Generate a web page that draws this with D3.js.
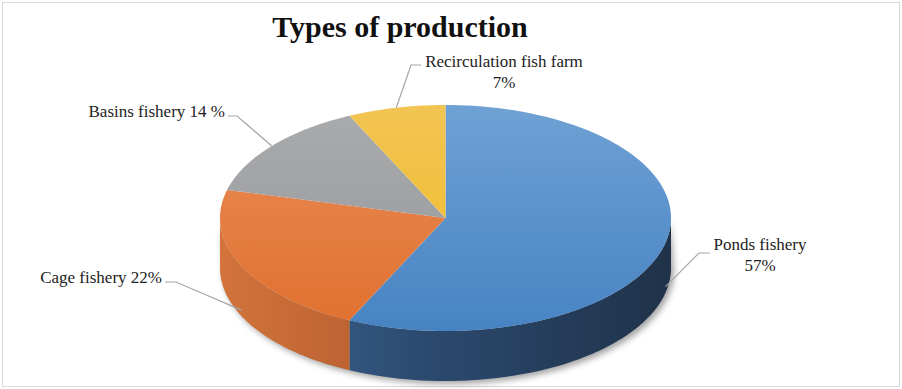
<!DOCTYPE html>
<html><head><meta charset="utf-8">
<script src="https://cdnjs.cloudflare.com/ajax/libs/d3/7.8.5/d3.min.js"></script>
<style>html,body{margin:0;padding:0;background:#fff;}svg{display:block;}</style>
</head><body>
<svg id="c" width="902" height="389"></svg>
<script>
// ---- data ----
const categories = ["Ponds fishery", "Cage fishery", "Basins fishery", "Recirculation fish farm"];
const values = [57, 22, 14, 7];
const labelLines = [["Ponds fishery", "57%"], ["Cage fishery 22%"], ["Basins fishery 14 %"], ["Recirculation fish farm", "7%"]];
const title = "Types of production";

// ---- layout / style ----
const W = 902, H = 389;
const cx = 445.5, cy = 218, rx = 225.5, ry = 113, depth = 50;
const topCol = [["#6fa1d4", "#4783c3"], ["#ea8c58", "#e0702f"], ["#aaabad", "#939699"], ["#f2c452", "#efbb26"]];
const sideCol = [["#37618f", "#21344c"], ["#d2743b", "#a6522a"], ["#8a8c8e", "#6e7072"], ["#c89a1a", "#a88012"]];
const labelPos = [
  {x: 760, y: 250, anchor: "middle", elbow: [[710, 253], [699, 253]]},
  {x: 162, y: 283, anchor: "end", elbow: [[165, 282], [176, 282]]},
  {x: 225, y: 117, anchor: "end", elbow: [[228, 116], [237, 116]]},
  {x: 504, y: 67, anchor: "middle", elbow: [[421, 65], [411, 65]]}
];

const svg = d3.select("#c");
const defs = svg.append("defs");

svg.append("rect").attr("x", 2.5).attr("y", 2.5).attr("width", 897).attr("height", 384)
  .attr("fill", "#fff").attr("stroke", "#d9d9d9").attr("stroke-width", 1);

svg.append("text").attr("x", 400).attr("y", 37).attr("text-anchor", "middle")
  .attr("font-family", "Liberation Serif, Times New Roman, serif").attr("font-weight", "bold")
  .attr("font-size", 30).attr("fill", "#111").text(title);

const pie = d3.pie().sort(null).value(d => d)(values);
const pt = (a, dy = 0) => [cx + rx * Math.sin(a), cy - ry * Math.cos(a) + dy];

// shadow
const f = defs.append("filter").attr("id", "sh").attr("x", "-20%").attr("y", "-20%").attr("width", "140%").attr("height", "140%");
f.append("feGaussianBlur").attr("stdDeviation", 3);
const shadowPts = d3.range(0, 181).map(i => pt(Math.PI / 2 * 0.95 + i / 180 * Math.PI * 1.05, depth + 3)).map(p => [p[0] + 3, p[1]]);
svg.append("path").attr("d", d3.line()(shadowPts.concat(d3.range(0, 181).map(i => pt(Math.PI * 1.5 - i / 180 * Math.PI, 0)))) + "Z")
  .attr("fill", "#555").attr("opacity", 0.55).attr("filter", "url(#sh)");

// gradients
pie.forEach((d, i) => {
  const g = defs.append("linearGradient").attr("id", "side" + i).attr("gradientUnits", "userSpaceOnUse")
    .attr("x1", cx - rx).attr("x2", cx + rx).attr("y1", 0).attr("y2", 0);
  const s = i === 0 ? [["0", "#3c6898"], ["0.45", "#2c4a6f"], ["1", "#1f3249"]] :
            [["0", sideCol[i][0]], ["0.6", sideCol[i][1]], ["1", sideCol[i][1]]];
  s.forEach(([o, c]) => g.append("stop").attr("offset", o).attr("stop-color", c));
  const t = defs.append("linearGradient").attr("id", "top" + i).attr("gradientUnits", "userSpaceOnUse")
    .attr("x1", 0).attr("x2", 0).attr("y1", cy - ry).attr("y2", cy + ry);
  t.append("stop").attr("offset", "0").attr("stop-color", topCol[i][0]);
  t.append("stop").attr("offset", "1").attr("stop-color", topCol[i][1]);
});

const line = d3.line();
// side walls (front half only)
pie.forEach((d, i) => {
  const a0 = Math.max(d.startAngle, Math.PI / 2), a1 = Math.min(d.endAngle, Math.PI * 1.5);
  if (a1 <= a0) return;
  const n = 60;
  const upper = d3.range(n + 1).map(k => pt(a0 + (a1 - a0) * k / n));
  const lower = d3.range(n + 1).map(k => pt(a1 - (a1 - a0) * k / n, depth));
  svg.append("path").attr("d", line(upper.concat(lower)) + "Z").attr("fill", `url(#side${i})`);
});
// top faces
pie.forEach((d, i) => {
  const n = Math.max(8, Math.round((d.endAngle - d.startAngle) * 60));
  const pts = [[cx, cy]].concat(d3.range(n + 1).map(k => pt(d.startAngle + (d.endAngle - d.startAngle) * k / n)));
  svg.append("path").attr("d", line(pts) + "Z").attr("fill", `url(#top${i})`);
});

// leader lines & labels
pie.forEach((d, i) => {
  const m = (d.startAngle + d.endAngle) / 2;
  const front = Math.cos(m) < 0;
  const p = pt(m, front ? depth * 0.88 : 0);
  const L = labelPos[i];
  svg.append("path").attr("d", line([L.elbow[0], L.elbow[1], p]))
    .attr("fill", "none").attr("stroke", "#a6a6a6").attr("stroke-width", 1.2);
  const t = svg.append("text").attr("text-anchor", L.anchor)
    .attr("font-family", "Liberation Serif, Times New Roman, serif").attr("font-size", 17).attr("fill", "#222");
  labelLines[i].forEach((s, k) => t.append("tspan").attr("x", L.x).attr("y", L.y + k * 21).text(s));
});
</script>
</body></html>
